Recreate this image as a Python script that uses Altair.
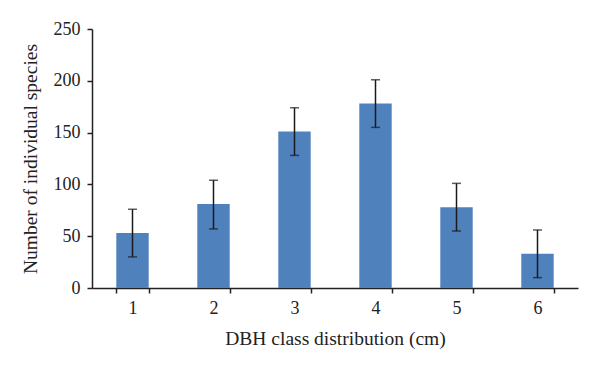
import altair as alt
import pandas as pd

classes = ["1", "2", "3", "4", "5", "6"]
counts = [53, 81, 151, 178, 78, 33]
err_low = [30, 57, 128, 155, 55, 10]
err_high = [76, 104, 174, 201, 101, 56]

df = pd.DataFrame({"cls": classes, "n": counts, "lo": err_low, "hi": err_high})

FONT = "Liberation Serif"

yscale = alt.Scale(domain=[0, 250], nice=False)
xscale = alt.Scale(paddingInner=0.6, paddingOuter=0.3)

x = alt.X("cls:N", title="DBH class distribution (cm)", scale=xscale,
          axis=alt.Axis(labelAngle=0, tickBand="extent", labelPadding=6,
                        titlePadding=12))
y = alt.Y("n:Q", title="Number of individual species", scale=yscale,
          axis=alt.Axis(values=[0, 50, 100, 150, 200, 250], grid=False,
                        labelPadding=7, titlePadding=13))

bars = alt.Chart(df).mark_bar(color="#4F81BD").encode(x=x, y=y)
rules = alt.Chart(df).mark_rule(color="#1a1a1a", strokeWidth=1.5).encode(
    x=alt.X("cls:N", scale=xscale), y=alt.Y("lo:Q", scale=yscale), y2="hi:Q")
cap_lo = alt.Chart(df).mark_tick(color="#1a1a1a", size=9, thickness=1.5, orient="horizontal").encode(
    x=alt.X("cls:N", scale=xscale), y=alt.Y("lo:Q", scale=yscale))
cap_hi = alt.Chart(df).mark_tick(color="#1a1a1a", size=9, thickness=1.5, orient="horizontal").encode(
    x=alt.X("cls:N", scale=xscale), y=alt.Y("hi:Q", scale=yscale))

chart = (bars + rules + cap_lo + cap_hi).properties(
    width=486, height=259,
    autosize=alt.AutoSizeParams(type="none"),
    padding={"left": 84, "top": 21, "right": 14, "bottom": 72},
).configure_view(stroke=None).configure_axis(
    labelFont=FONT, titleFont=FONT, labelFontSize=18, titleFontSize=19.5,
    labelColor="#222", titleColor="#222", titleFontWeight="normal",
    domainColor="#222", tickColor="#222", domainWidth=1.5, tickWidth=1.5,
    tickSize=5,
)

chart.save("out.html", embed_options={"renderer": "svg", "actions": False})
